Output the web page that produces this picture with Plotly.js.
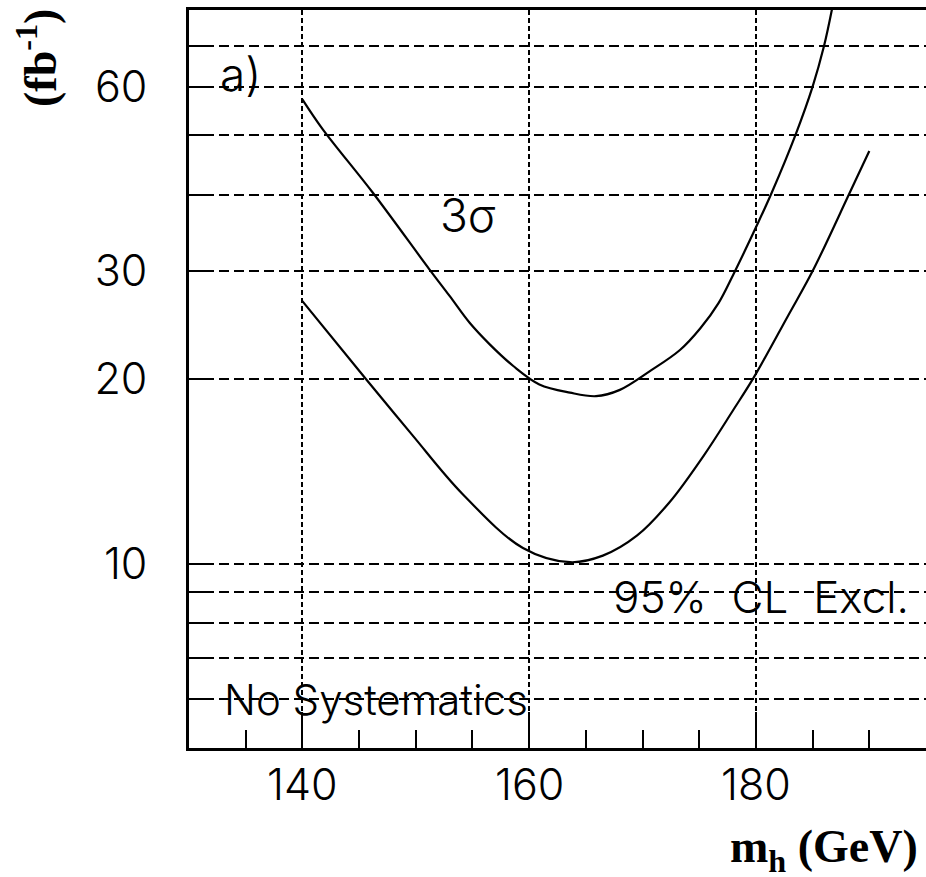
<!DOCTYPE html>
<html>
<head>
<meta charset="utf-8">
<script src="https://cdn.plot.ly/plotly-3.0.1.min.js"></script>
<style>html,body{margin:0;padding:0;background:#fff;}#chart{width:926px;height:877px;}</style>
</head>
<body>
<div id="chart"></div>
<script>
// 3 sigma discovery curve
const mass3s = [140.0, 141.8, 146.2, 151.2, 153.0, 154.75, 156.5, 158.6, 160.9, 163.6, 165.9, 168.0, 170.65, 173.3, 175.1, 176.7, 178.0, 180.2, 181.4, 183.5, 185.0, 186.0, 186.7];
const lumi3s = [57.2, 51.1, 40.3, 30.2, 27.3, 24.7, 22.8, 21.0, 19.6, 19.0, 18.75, 19.2, 20.6, 22.3, 24.2, 26.6, 29.6, 36.0, 40.3, 50.1, 60, 69.8, 80.1];
// 95% CL exclusion curve
const massEx = [140, 145.6, 149.7, 154.1, 159.45, 163.6, 166.5, 169.5, 172.4, 175.4, 178.0, 179.8, 182.8, 185.0, 188.2, 190.0];
const lumiEx = [26.8, 20, 16.2, 13.0, 10.6, 10.05, 10.3, 11.1, 12.6, 15.0, 17.8, 20.1, 25.3, 30, 40, 47.1];
// axis ticks
const yTickVals = [6, 7, 8, 9, 10, 20, 30, 40, 50, 60, 70];
const yTickText = ["", "", "", "", "10", "20", "30", "", "", "60", ""];
const xTickVals = [140, 160, 180];
const xTickText = ["140", "160", "180"];

const thin = {family: "Inter, Roboto, 'Liberation Sans', sans-serif", size: 42, color: "#000", weight: 300};
const bold = {family: "'Liberation Serif', 'DejaVu Serif', serif", size: 46, color: "#000", weight: "bold"};

const traces = [
  {x: mass3s, y: lumi3s, type: "scatter", mode: "lines", line: {color: "#000", width: 2.2, shape: "spline", smoothing: 1}, hoverinfo: "skip"},
  {x: massEx, y: lumiEx, type: "scatter", mode: "lines", line: {color: "#000", width: 2.2, shape: "spline", smoothing: 1}, hoverinfo: "skip"}
];

const xLabelAnn = xTickVals.map((v, i) => ({
  x: v, y: (748 - 784) / 738, xref: "x", yref: "paper", text: xTickText[i],
  showarrow: false, xanchor: "center", yanchor: "middle", font: Object.assign({}, thin, {size: 43})
}));

const layout = {
  width: 926, height: 877,
  margin: {l: 189, r: 0, t: 10, b: 129},
  paper_bgcolor: "#fff", plot_bgcolor: "#fff",
  showlegend: false,
  xaxis: {
    range: [130, 195], tickvals: xTickVals, ticktext: xTickText, showticklabels: false,
    ticks: "inside", ticklen: 36, tickwidth: 2, tickcolor: "#000",
    showgrid: true, gridcolor: "#000", gridwidth: 2, griddash: "5px,3px",
    showline: true, linecolor: "#000", linewidth: 3, mirror: true,
    zeroline: false,
    minor: {dtick: 5, tick0: 140, ticks: "inside", ticklen: 18, tickwidth: 2, tickcolor: "#000", showgrid: false}
  },
  yaxis: {
    type: "log", range: [Math.log10(5), Math.log10(80)],
    tickvals: yTickVals, ticktext: yTickText,
    ticks: "inside", ticklen: 23, tickwidth: 2, tickcolor: "#000",
    showgrid: true, gridcolor: "#000", gridwidth: 2, griddash: "10px,5px",
    showline: true, linecolor: "#000", linewidth: 3, mirror: false,
    zeroline: false, tickfont: Object.assign({}, thin, {size: 43}), ticklabelstandoff: 30
  },
  annotations: xLabelAnn.concat([
    {x: 132.6, y: Math.log10(63), xref: "x", yref: "y", text: "a)", showarrow: false, xanchor: "left", yanchor: "middle", font: Object.assign({}, thin, {size: 46})},
    {x: 152.0, y: Math.log10(37), xref: "x", yref: "y", text: "3σ", showarrow: false, xanchor: "left", yanchor: "middle", font: Object.assign({}, thin, {size: 46})},
    {x: 167.2, y: Math.log10(8.83), xref: "x", yref: "y", text: "95%&nbsp; CL&nbsp; Excl.", showarrow: false, xanchor: "left", yanchor: "middle", font: Object.assign({}, thin, {size: 44})},
    {x: 132.9, y: Math.log10(6), xref: "x", yref: "y", text: "No Systematics", showarrow: false, xanchor: "left", yanchor: "middle", font: thin},
    {x: (37 - 189) / 737, y: (748 - 58) / 738, xref: "paper", yref: "paper", text: "(fb<sup>-1</sup>)", textangle: -90, showarrow: false, xanchor: "center", yanchor: "middle", font: bold},
    {x: (728 - 189) / 737, y: (748 - 850) / 738, xref: "paper", yref: "paper", text: "m<sub>h</sub> (GeV)", showarrow: false, xanchor: "left", yanchor: "middle", font: bold}
  ])
};

Plotly.newPlot("chart", traces, layout, {staticPlot: true, displayModeBar: false});
</script>
</body>
</html>
